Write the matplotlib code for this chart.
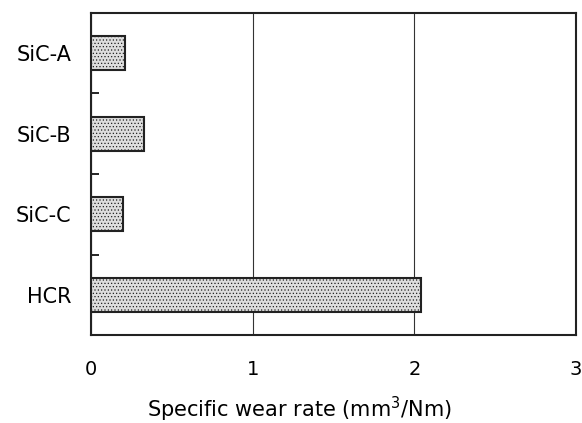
import numpy as np
import matplotlib.pyplot as plt
from matplotlib.ticker import FixedLocator

# data
materials = ['SiC-A', 'SiC-B', 'SiC-C', 'HCR']
wear_rate = [0.21, 0.33, 0.20, 2.04]
x_ticks = [0, 1, 2, 3]

plt.rcParams['font.family'] = ['DejaVu Sans']
plt.rcParams['hatch.color'] = '#c4c4c4'
plt.rcParams['hatch.linewidth'] = 0.5

fig = plt.figure(figsize=(5.82, 4.23), dpi=100)
ax = fig.add_axes([0.1564, 0.208, 0.8333, 0.7613])

pos = np.arange(len(materials))
ax.barh(pos, wear_rate, height=0.42, color='#dedede', edgecolor='#222222',
        linewidth=1.5, hatch='.....', zorder=3)

ax.set_xlim(0, 3)
ax.set_ylim(len(materials) - 0.5, -0.5)
ax.set_xticks(x_ticks)
ax.set_xticklabels([str(t) for t in x_ticks])
ax.set_yticks(pos)
ax.set_yticklabels(materials)
ax.yaxis.set_minor_locator(FixedLocator(pos[:-1] + 0.5))

ax.tick_params(axis='x', length=0, pad=18, labelsize=14)
ax.tick_params(axis='y', which='major', length=0, pad=14, labelsize=15)
ax.tick_params(axis='y', which='minor', length=6, width=1.2, direction='in')

ax.grid(axis='x', color='#333333', linewidth=0.8, zorder=0)

for s in ax.spines.values():
    s.set_linewidth(1.5)
    s.set_color('#222222')

ax.set_xlabel('Specific wear rate (mm$^3$/Nm)', fontsize=15)
ax.xaxis.set_label_coords(0.431, -0.185)

fig.savefig('out.png', dpi=100)
